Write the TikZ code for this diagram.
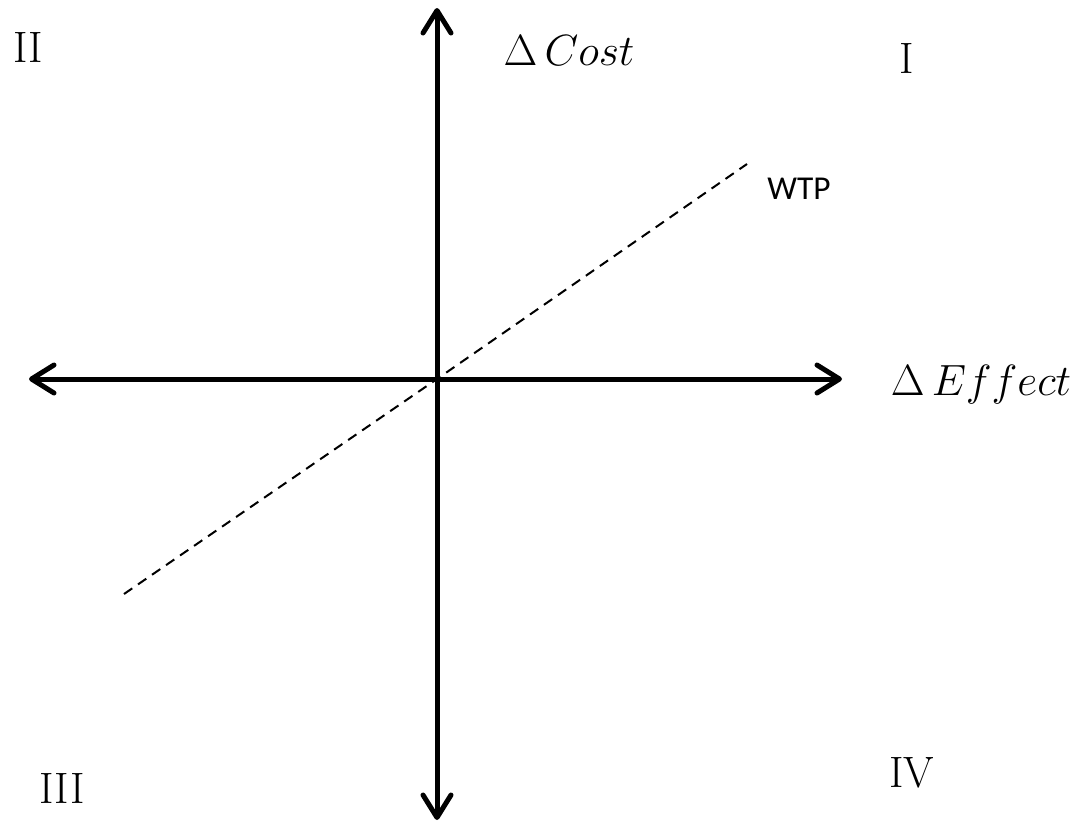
\documentclass[tikz,border=0pt]{standalone}
\usepackage{fontspec}
\newfontfamily\wtpfont{Carlito}
\usetikzlibrary{arrows.meta}

\begin{document}
\begin{tikzpicture}[x=0.02cm,y=-0.02cm,
  axis/.style={line width=0.1cm,{Straight Barb[length=4.5mm,width=5.6mm,round]}-{Straight Barb[length=4.5mm,width=5.6mm,round]}},
  wtp/.style={line width=0.04cm,dash pattern=on 0.2cm off 0.14cm},
  quad/.style={anchor=base,font=\fontsize{25}{30}\selectfont},
  lab/.style={anchor=base,font=\fontsize{25}{30}\selectfont}]
\useasboundingbox (0,0) rectangle (1081,822);
\coordinate (O) at (437,379);
\coordinate (W) at (29,379);
\coordinate (E) at (842,379);
\coordinate (N) at (437,8);
\coordinate (S) at (437,820);
\coordinate (A) at (124,594);
\coordinate (B) at (747,164);
\draw[axis] (W)--(E);
\draw[axis] (S)--(N);
\draw[wtp] (A)--(O)--(B);
\node[lab] (cost) at (569,65) {$\Delta\,Cost$};
\node[lab] (effect) at (981,395) {$\Delta\,Effect$};
\node[anchor=base,font=\wtpfont\fontsize{19}{23}\selectfont] (wtplab) at (799,199) {WTP};
\node[quad] (q1) at (907,73) {I};
\node[quad] (q2) at (28,62) {II};
\node[quad] (q3) at (62,803) {III};
\node[quad] (q4) at (912,787) {IV};
\end{tikzpicture}
\end{document}
